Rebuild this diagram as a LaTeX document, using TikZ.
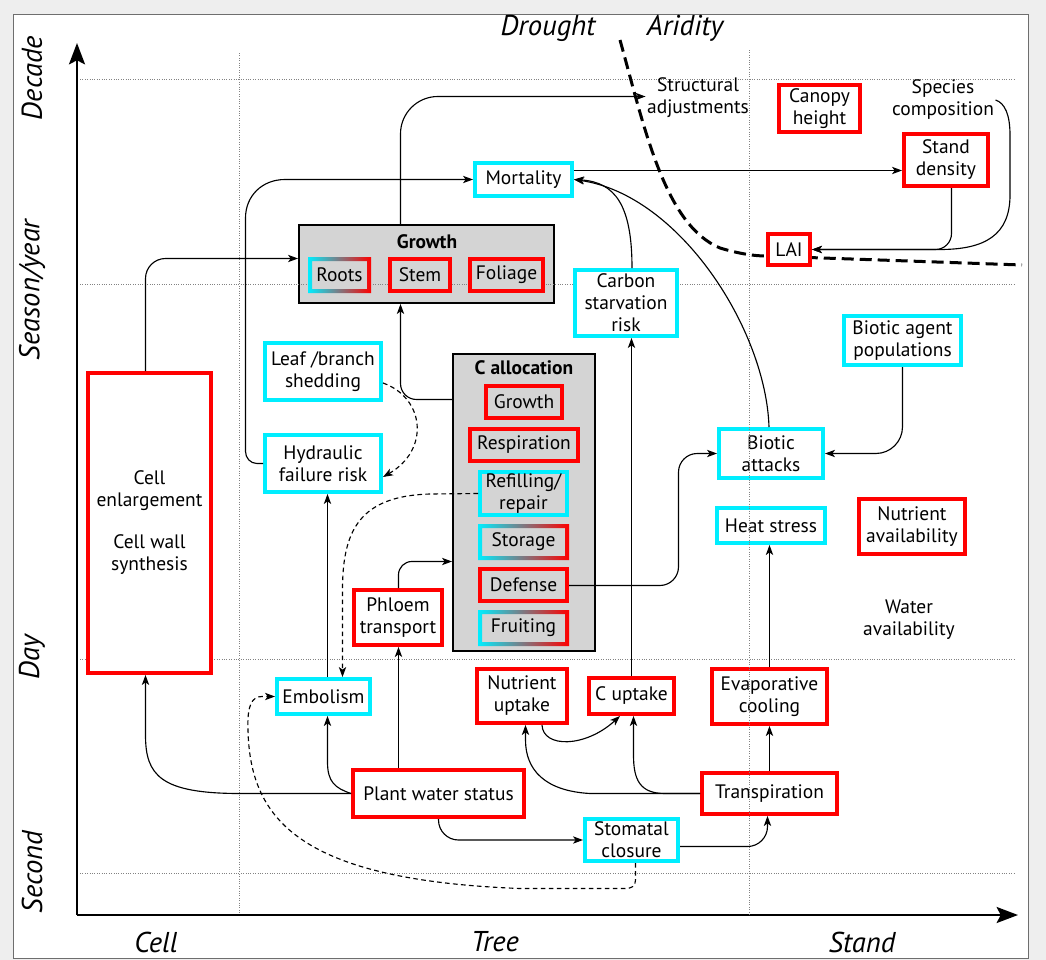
\documentclass[tikz,border=0pt]{standalone}
\usepackage{fontspec}
\setmainfont{PT Sans}
\usetikzlibrary{arrows.meta,calc}
\definecolor{cyb}{RGB}{0,238,255}
\definecolor{boxg}{RGB}{212,212,212}
\definecolor{bgc}{RGB}{238,238,238}
\definecolor{gridc}{RGB}{130,130,130}
\definecolor{framec}{RGB}{110,110,110}
\newcommand\nf{\fontsize{14.6}{16.5}\selectfont}
\newcommand\af{\fontsize{21.5}{23}\selectfont\itshape}
\newcommand\gframe[1]{\shade[left color=cyb, right color=red, even odd rule]
  ([shift={(-2,-2)}]#1.north west) rectangle ([shift={(2,2)}]#1.south east)
  ([shift={(2,2)}]#1.north west) rectangle ([shift={(-2,-2)}]#1.south east);}
\begin{document}
\begin{tikzpicture}[x=0.75pt,y=-0.75pt,
  bx/.style 2 args={minimum width={(#1-4)*0.75pt}, minimum height={(#2-4)*0.75pt}},
  rb/.style={draw=red, line width=3pt, fill=white, inner sep=0pt, align=center, font=\nf},
  cb/.style={draw=cyb, line width=3pt, fill=white, inner sep=0pt, align=center, font=\nf},
  gb/.style={fill=boxg, outer sep=0pt, inner sep=0pt, align=center, font=\nf},
  cont/.style={draw=black, fill=boxg, line width=1.5pt, inner sep=0pt},
  txt/.style={inner sep=1pt, align=center, font=\nf},
  axl/.style={font=\af, inner sep=0pt},
  grid/.style={draw=gridc, line width=0.6pt, dash pattern=on 0.6pt off 1.2pt},
  arr/.style={line width=0.85pt, -{Stealth[length=7.5pt,width=5.5pt,inset=2pt]}},
  darr/.style={arr, dash pattern=on 3.5pt off 2.5pt},
  axis/.style={line width=1.5pt, -{Stealth[length=16pt,width=12pt,inset=3pt]}}
]
\useasboundingbox (0,0) rectangle (1046,960);
\fill[bgc] (0,0) rectangle (1046,960);
\filldraw[fill=white, draw=framec, line width=0.75pt] (13,14) rectangle (1028,958);

% containers
\node[cont, minimum width={255*0.75pt}, minimum height={78*0.75pt}] (growthbox) at (426.5,264) {};
\node[cont, minimum width={142*0.75pt}, minimum height={297*0.75pt}] (callocbox) at (524,502.5) {};

% grid (horizontal) and left vertical
\draw[grid] (80,79) -- (1015,79);
\draw[grid] (80,284) -- (1015,284);
\draw[grid] (80,659) -- (1015,659);
\draw[grid] (80,873) -- (1015,873);
\draw[grid] (239,53) -- (239,915);

% axes
\draw[axis] (77,915) -- (77,43);
\draw[axis] (77,915) -- (1018,915);

% axis labels
\node[axl, rotate=90] (ldec) at (32,78) {Decade};
\node[axl, rotate=90] (lsea) at (32,290) {Season/year};
\node[axl, rotate=90] (lday) at (32,657) {Day};
\node[axl, rotate=90] (lsec) at (32,872) {Second};
\node[axl] (lcell) at (156,942) {Cell};
\node[axl] (ltree) at (495,942) {Tree};
\node[axl] (lstand) at (862,942) {Stand};
\node[axl] (ldrought) at (548,28) {Drought};
\node[axl] (larid) at (685,28) {Aridity};

% drought / aridity boundary
\draw[line width=2.25pt, dash pattern=on 9pt off 4.5pt]
  (620,40) .. controls (645,130) and (665,225) .. (720,248)
  .. controls (740,254) and (755,256) .. (766,256) -- (1022,265);

% titles of containers
\node[font=\nf\bfseries, inner sep=0pt] (gtitle) at (427,242) {Growth};
\node[font=\nf\bfseries, inner sep=0pt] (ctitle) at (524,368) {C allocation};

% growth parts
\node[gb, bx={63}{36}] (roots) at (339.5,275) {Roots};
\gframe{roots}
\node[rb, fill=boxg, bx={64}{36}] (stem) at (420,275) {Stem};
\node[rb, fill=boxg, bx={77}{36}] (foliage) at (506.5,275) {Foliage};

% C allocation parts
\node[rb, fill=boxg, bx={80}{36}] (cgrowth) at (524,402) {Growth};
\node[rb, fill=boxg, bx={112}{36}] (resp) at (524,445) {Respiration};
\node[cb, fill=boxg, bx={91}{47}] (refill) at (523.5,493.5) {Refilling/\\repair};
\node[gb, bx={91}{36}] (storage) at (523.5,542) {Storage};
\gframe{storage}
\node[rb, fill=boxg, bx={91}{36}] (defense) at (523.5,585) {Defense};
\node[gb, bx={91}{36}] (fruiting) at (523.5,628) {Fruiting};
\gframe{fruiting}

% red boxes
\node[rb, bx={85}{51}] (canopy) at (819.5,108.5) {Canopy\\height};
\node[rb, bx={88}{56}] (stand) at (946,160) {Stand\\density};
\node[rb, bx={46}{35}] (lai) at (789,249.5) {LAI};
\node[rb, bx={92}{59}] (phloem) at (398,617.5) {Phloem\\transport};
\node[rb, bx={127}{304}] (cell) at (149.5,523) {Cell\\enlargement\\[15pt]Cell wall\\synthesis};
\node[rb, bx={94}{58}] (nutup) at (522,696) {Nutrient\\uptake};
\node[rb, bx={89}{40}] (cup) at (631.5,696) {C uptake};
\node[rb, bx={119}{59}] (evap) at (769.5,696.5) {Evaporative\\cooling};
\node[rb, bx={175}{51}] (pws) at (438.5,793.5) {Plant water status};
\node[rb, bx={139}{45}] (transp) at (769.5,793.5) {Transpiration};
\node[rb, bx={110}{59}] (nutav) at (912,526.5) {Nutrient\\availability};

% cyan boxes
\node[cb, bx={101}{37}] (mort) at (523.5,179.5) {Mortality};
\node[cb, bx={106}{70}] (cstarv) at (626,303) {Carbon\\starvation\\risk};
\node[cb, bx={120}{61}] (shed) at (323,371.5) {Leaf /branch\\shedding};
\node[cb, bx={120}{61}] (hydr) at (323,463.5) {Hydraulic\\failure risk};
\node[cb, bx={97}{39}] (embol) at (323.5,696.5) {Embolism};
\node[cb, bx={97}{46}] (stomatal) at (631.5,840) {Stomatal\\closure};
\node[cb, bx={108}{53}] (biotatt) at (771,453.5) {Biotic\\attacks};
\node[cb, bx={112}{39}] (heat) at (771,525.5) {Heat stress};
\node[cb, bx={121}{53}] (biopop) at (902.5,340.5) {Biotic agent\\populations};

% plain texts
\node[txt] (struct) at (698,98) {Structural\\adjustments};
\node[txt] (species) at (943,100) {Species\\composition};
\node[txt] (water) at (909,620) {Water\\availability};

% right vertical grid line (drawn over boxes)
\draw[grid] (749,50) -- (749,915);

% connectors
\draw[arr, rounded corners=15pt] (cell.north -| 145.5,0) |- (growthbox.west |- 0,258.5);
\draw[arr, rounded corners=28pt] (growthbox.north -| 400.5,0) |- (struct.west |- 0,96.5);
\draw[arr] (hydr.west) -- (257,463.5) .. controls (250.4,463.5) and (245.5,458) .. (245.5,451.5)
  -- (245.5,218) .. controls (245.5,196) and (262,179.5) .. (285,179.5) -- (mort.west);
\draw[arr, rounded corners=12pt] (callocbox.west |- 0,399.5) -| (growthbox.south -| 400.5,0);
\draw[darr] (shed.east |- 0,383) .. controls (425,398) and (430,450) .. (hydr.east |- 0,477);
\draw[arr] (mort.east |- 0,170.5) -- (stand.west |- 0,170.5);
\draw[arr] (cstarv.north -| 632,0) .. controls (632,205) and (615,182) .. (mort.east);
\draw[arr] (biotatt.north -| 769,0) .. controls (766,330) and (680,195) .. (mort.east);
\draw[arr, rounded corners=12pt] (stand.south -| 951.5,0) |- (lai.east);
\draw[arr] (species.east) .. controls (1005,103) and (1010,115) .. (1010,135) -- (1010,195)
  .. controls (1010,235) and (985,249.5) .. (940,249.5) -- (lai.east);
\draw[arr, rounded corners=14pt] (defense.east |- 0,585.5) -| ($(biotatt.west)+(-38.5,0)$) -- (biotatt.west);
\draw[arr, rounded corners=20pt] (biopop.south) |- (biotatt.east);
\draw[arr] (cup.north) -- (cup.north |- cstarv.south);
\draw[arr] (pws.north -| 398.5,0) -- (phloem.south -| 398.5,0);
\draw[arr, rounded corners=10pt] (phloem.north -| 398.5,0) |- (callocbox.west |- 0,561.5);
\draw[arr] (embol.north -| 327.5,0) -- (hydr.south -| 327.5,0);
\draw[darr] (refill.west) -- (430,494) .. controls (360,496) and (342.5,530) .. (342.5,590) -- (embol.north -| 342.5,0);
\draw[arr] (pws.west) -- (240,793.5) .. controls (160,793.5) and (145.5,775) .. (145.5,735) -- (cell.south -| 145.5,0);
\draw[arr] (pws.west) .. controls (335,788) and (327.5,782) .. (327.5,762) -- (embol.south -| 327.5,0);
\draw[arr, rounded corners=15pt] (pws.south) |- (stomatal.west);
\draw[arr, rounded corners=15pt] (stomatal.east |- 0,846.5) -| (transp.south -| 767.5,0);
\draw[darr] (stomatal.south -| 635.5,0) -- (635.5,880) .. controls (635.5,886) and (632,888.5) .. (625,888.5)
  -- (520,888.5) .. controls (300,880) and (250,820) .. (248,730)
  .. controls (247,705) and (252,696.5) .. (262,696.5) -- (embol.west);
\draw[arr] (nutup.south -| 542,0) .. controls (543,748) and (585,748) .. (cup.south -| 620,0);
\draw[arr] (transp.west) -- (665,793.5) .. controls (640,793.5) and (633.5,780) .. (633.5,755) -- (cup.south -| 633.5,0);
\draw[arr] (transp.west) -- (590,793.5) .. controls (545,791) and (525.5,770) .. (525.5,740) -- (nutup.south -| 525.5,0);
\draw[arr] (evap.north -| 769.5,0) -- (heat.south -| 769.5,0);
\draw[arr] (transp.north -| 769.5,0) -- (evap.south -| 769.5,0);
\end{tikzpicture}
\end{document}
